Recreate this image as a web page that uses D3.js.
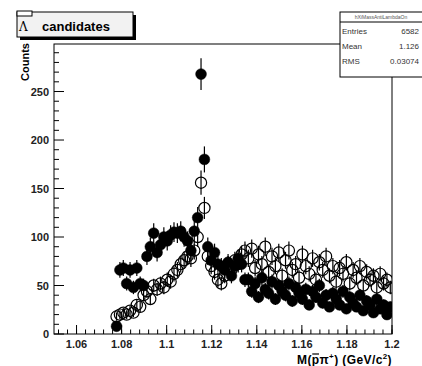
<!DOCTYPE html>
<html><head><meta charset="utf-8">
<script src="https://cdn.jsdelivr.net/npm/d3@7"></script>
<style>body{margin:0;background:#fff}svg{display:block;font-family:"Liberation Sans",Arial,sans-serif}</style>
</head><body>
<svg id="c" width="422" height="366"></svg>
<script>
// ---- data ----
const binStart = 1.05, binWidth = 0.0015, firstBin = 18;
const filledCounts = [8,66,68,52,66,48,68,52,50,80,90,104,84,92,100,96,102,105,104,106,100,96,86,106,120,268,180,90,76,84,72,70,66,74,60,70,78,72,56,
  56,44,52,38,58,46,42,54,36,50,44,40,52,34,48,42,36,46,30,44,38,50,32,40,28,42,36,30,44,26,38,32,28,40,24,34,30,22,36,26,30,20,28];
const openCounts = [18,20,22,20,24,22,30,28,40,44,36,50,46,52,48,56,54,62,66,72,76,80,78,86,100,156,130,80,70,64,56,52,60,72,66,76,72,82,86,
  78,88,68,82,72,90,64,80,70,84,60,76,86,66,72,58,82,70,62,78,56,74,66,80,60,70,54,68,62,74,52,66,58,70,50,64,56,60,48,62,52,56,48];
const xTicks = [1.06,1.08,1.1,1.12,1.14,1.16,1.18,1.2];
const xTickLabels = ["1.06","1.08","1.1","1.12","1.14","1.16","1.18","1.2"];
const yTicks = [0,50,100,150,200,250];
const statsLabels = ["Entries","Mean","RMS"];
const statsValues = ["6582","1.126","0.03074"];

const centers = filledCounts.map((_,i)=> binStart + binWidth*(firstBin+i+0.5));

const svg = d3.select("#c");
const L=54,R=392,T=44,B=334;
const x = d3.scaleLinear().domain([1.05,1.2]).range([L,R]);
const y = d3.scaleLinear().domain([0,299]).range([B,T]);

// frame
svg.append("rect").attr("x",L).attr("y",T).attr("width",R-L).attr("height",B-T)
  .attr("fill","none").attr("stroke","#000").attr("stroke-width",1);

// x ticks (inside)
const g = svg.append("g");
const xMinor = d3.range(0,38).map(i=>1.052+i*0.004).filter(v=>v<=1.2001);
xMinor.forEach(v=>g.append("line").attr("x1",x(v)).attr("x2",x(v)).attr("y1",B).attr("y2",B-4.5).attr("stroke","#000"));
xTicks.forEach(v=>g.append("line").attr("x1",x(v)).attr("x2",x(v)).attr("y1",B).attr("y2",B-9).attr("stroke","#000"));
xTicks.forEach((v,i)=>g.append("text").attr("x",x(v)).attr("y",348).attr("text-anchor","middle")
  .attr("font-size",11).attr("font-weight","bold").attr("fill","#222").text(xTickLabels[i]));
// y ticks
d3.range(0,300,10).forEach(v=>{
  const major = v%50===0;
  g.append("line").attr("x1",L).attr("x2",L+(major?10:5)).attr("y1",y(v)).attr("y2",y(v)).attr("stroke","#000");
});
yTicks.forEach(v=>g.append("text").attr("x",49).attr("y",y(v)+4).attr("text-anchor","end")
  .attr("font-size",11).attr("font-weight","bold").attr("fill","#222").text(v));

// axis titles
svg.append("text").attr("transform","translate(29,43) rotate(-90)").attr("text-anchor","end")
  .attr("font-size",11).attr("font-weight","bold").text("Counts");
const xt = svg.append("text").attr("x",392).attr("y",364).attr("text-anchor","end")
  .attr("font-size",12).attr("font-weight","bold").attr("letter-spacing",0.4);
xt.append("tspan").text("M(pπ");
xt.append("tspan").attr("font-size",8).attr("dy",-5).text("+");
xt.append("tspan").attr("dy",5).text(") (GeV/c");
xt.append("tspan").attr("font-size",8).attr("dy",-5).text("2");
xt.append("tspan").attr("dy",5).text(")");
// overline over the "p"
try {
  const n = xt.node();
  const s = n.getStartPositionOfChar(2), e = n.getEndPositionOfChar(2);
  svg.append("line").attr("x1",s.x+0.5).attr("x2",e.x-0.5).attr("y1",364-10).attr("y2",364-10)
    .attr("stroke","#000").attr("stroke-width",1.2);
} catch(err) {}

// data
svg.append("clipPath").attr("id","pc").append("rect").attr("x",L).attr("y",T).attr("width",R-L).attr("height",B-T);
const dg = svg.append("g").attr("clip-path","url(#pc)");
function drawSeries(counts, open){
  const grp = dg.append("g");
  counts.forEach((c,i)=>{
    const cx = x(centers[i]);
    const e = Math.sqrt(c);
    grp.append("line").attr("x1",cx).attr("x2",cx).attr("y1",y(c+e)).attr("y2",y(Math.max(0,c-e)))
      .attr("stroke","#000").attr("stroke-width",1.2);
  });
  counts.forEach((c,i)=>{
    grp.append("circle").attr("cx",x(centers[i])).attr("cy",y(c)).attr("r",open?5.6:5.4)
      .attr("fill",open?"none":"#000").attr("stroke","#000").attr("stroke-width",open?1.2:0.5);
  });
}
drawSeries(filledCounts,false);
drawSeries(openCounts,true);

// title box
svg.append("rect").attr("x",20).attr("y",15).attr("width",116).attr("height",25).attr("fill","#000");
svg.append("rect").attr("x",17).attr("y",12).attr("width",116).attr("height",25).attr("fill","#f2f2f2").attr("stroke","#000");
svg.append("rect").attr("x",17).attr("y",11).attr("width",15).attr("height",5).attr("fill","#fff").attr("stroke","#000");
svg.append("text").attr("x",19).attr("y",31).attr("font-size",12).attr("font-family","DejaVu Serif").text("Λ");
svg.append("text").attr("x",42).attr("y",31).attr("font-size",13).attr("font-weight","bold").text("candidates");

// stats box
svg.append("rect").attr("x",340).attr("y",12).attr("width",84).attr("height",65).attr("fill","#fff").attr("stroke","#000");
svg.append("line").attr("x1",340).attr("x2",422).attr("y1",22).attr("y2",22).attr("stroke","#000");
svg.append("text").attr("x",381).attr("y",19).attr("text-anchor","middle").attr("font-size",5).attr("fill","#555").text("hXiMassAntiLambdaOn");
statsLabels.forEach((s,i)=>{
  svg.append("text").attr("x",342).attr("y",34+i*15).attr("font-size",8).attr("fill","#333").text(s);
  svg.append("text").attr("x",419).attr("y",34+i*15).attr("text-anchor","end").attr("font-size",8).attr("fill","#333").text(statsValues[i]);
});
</script>
</body></html>
